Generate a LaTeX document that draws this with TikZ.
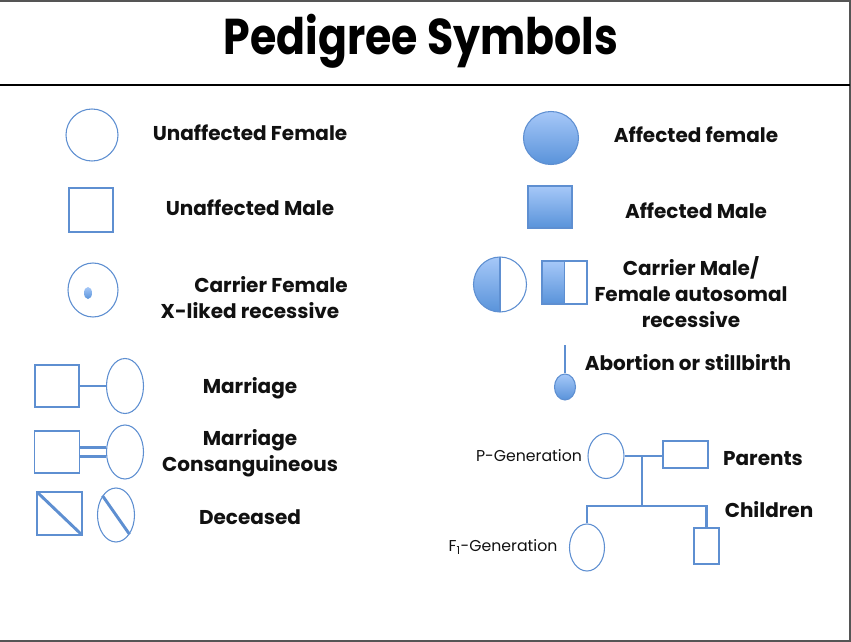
\documentclass[tikz,border=0pt]{standalone}
\usepackage{fontspec}
\setmainfont{Poppins}
\usepackage{xcolor}
\usepackage{tikz}
\usetikzlibrary{shapes.geometric}
\definecolor{fg}{HTML}{111111}
\definecolor{rim}{HTML}{555555}
\definecolor{pedline}{HTML}{5E8FD1}
\definecolor{pedtop}{HTML}{A6C8F8}
\definecolor{pedbot}{HTML}{5993DA}

\tikzset{
  sym/.style={draw=pedline,line width=0.8pt,inner sep=0pt,fill=white},
  female/.style={sym,ellipse},
  male/.style={sym,rectangle},
  affected/.style={top color=pedtop,bottom color=pedbot},
  halfleft/.style={path picture={
    \shade[top color=pedtop,bottom color=pedbot]
      (path picture bounding box.south west) rectangle (path picture bounding box.north);
    \draw[pedline,line width=0.8pt]
      (path picture bounding box.north) -- (path picture bounding box.south);}},
  crossed/.style={path picture={
    \draw[pedline,line width=2.2pt]
      (path picture bounding box.north west) -- (path picture bounding box.south east);}},
  link/.style={draw=pedline,line width=2.2pt},
  lbl/.style={font=\bfseries\fontsize{15}{19.5}\selectfont,align=center,text=fg},
  gen/.style={font=\fontsize{11.8}{14}\selectfont,text=fg}
}

\begin{document}
\begin{tikzpicture}[x=0.75pt,y=-0.75pt]
  \useasboundingbox (0,0) rectangle (851,642);
  \draw[rim,line width=1.5pt] (0,1) -- (850,1) -- (850,641) -- (0,641);
  \draw[black,line width=1.6pt] (0,85) -- (850,85);
  \node[font=\bfseries\fontsize{32}{38}\selectfont,text=black,yscale=1.18] (title) at (421,41) {Pedigree Symbols};

  % left column
  \node[female,minimum width=39pt,minimum height=39pt] (unF) at (92,135) {};
  \node[lbl] (unFlbl) at (250,133) {Unaffected Female};
  \node[male,minimum width=33pt,minimum height=33pt] (unM) at (91,210) {};
  \node[lbl] (unMlbl) at (250,208) {Unaffected Male};
  \node[female,minimum width=37.5pt,minimum height=40.5pt] (carF) at (93,290) {};
  \node[female,affected,draw=none,minimum width=6pt,minimum height=9pt] (carDot) at (88,293) {};
  \node[lbl] (carFlbl) at (271,285) {Carrier Female};
  \node[lbl] (carXlbl) at (250,311) {X-liked recessive};

  \node[male,minimum width=33pt,minimum height=31.5pt] (marM) at (57,386) {};
  \node[female,minimum width=27.75pt,minimum height=41.25pt] (marF) at (125,386) {};
  \draw[link] (marM.east) -- (marF.west);
  \node[lbl] (marlbl) at (250,388) {Marriage};

  \node[male,minimum width=33.75pt,minimum height=31.5pt] (conM) at (57,452) {};
  \node[female,minimum width=27.75pt,minimum height=40.5pt] (conF) at (125,452) {};
  \draw[link] ([yshift=3.4pt]conM.east) -- ([yshift=3.4pt]conF.west);
  \draw[link] ([yshift=-3.4pt]conM.east) -- ([yshift=-3.4pt]conF.west);
  \node[lbl] (conlbl) at (250,453) {Marriage\\Consanguineous};

  \node[male,crossed,minimum width=33.75pt,minimum height=32.25pt] (decM) at (59.5,513.5) {};
  \node[female,minimum width=27.75pt,minimum height=40.5pt] (decF) at (116,515) {};
  \draw[link] (decF.125) -- (decF.305);
  \node[lbl] (declbl) at (250,517) {Deceased};

  % right column
  \node[female,affected,minimum width=41.25pt,minimum height=39.75pt] (affF) at (551,138) {};
  \node[lbl] (affFlbl) at (696,135) {Affected female};
  \node[male,affected,minimum width=33pt,minimum height=31.5pt] (affM) at (550,207) {};
  \node[lbl] (affMlbl) at (696,211) {Affected Male};
  \node[female,halfleft,minimum width=39.75pt,minimum height=41.25pt] (hetF) at (500,284.5) {};
  \node[male,halfleft,minimum width=33.75pt,minimum height=32.25pt] (hetM) at (564.5,282.5) {};
  \node[lbl] (hetlbl) at (691,292) {Carrier Male/\\Female autosomal\\recessive};
  \coordinate (abtop) at (565,345);
  \node[female,affected,minimum width=15.75pt,minimum height=19.5pt] (abort) at (565,387) {};
  \draw[pedline,line width=1.6pt] (abtop) -- (abort.north);
  \node[lbl] (abortlbl) at (688,363) {Abortion or stillbirth};

  % small pedigree
  \node[female,minimum width=27pt,minimum height=33.75pt] (pF) at (606,456) {};
  \node[male,minimum width=33.75pt,minimum height=20.25pt] (pM) at (685.5,454.5) {};
  \coordinate (drop) at (642,456);
  \coordinate (sib) at (642,506);
  \node[female,minimum width=26.25pt,minimum height=35.25pt] (f1F) at (587,547.5) {};
  \node[male,minimum width=18.75pt,minimum height=27pt] (f1M) at (706.5,546) {};
  \draw[link] (pF.east) -- (pF.east -| pM.west);
  \draw[link] (drop) -- (sib);
  \draw[link] (f1F.north) |- (sib) -| (f1M.north);
  \node[gen] (plbl) at (529,456) {P-Generation};
  \node[gen] (f1lbl) at (503,547) {F\textsubscript{1}-Generation};
  \node[lbl] (parlbl) at (763,459) {Parents};
  \node[lbl] (chlbl) at (769,510) {Children};
\end{tikzpicture}
\end{document}
